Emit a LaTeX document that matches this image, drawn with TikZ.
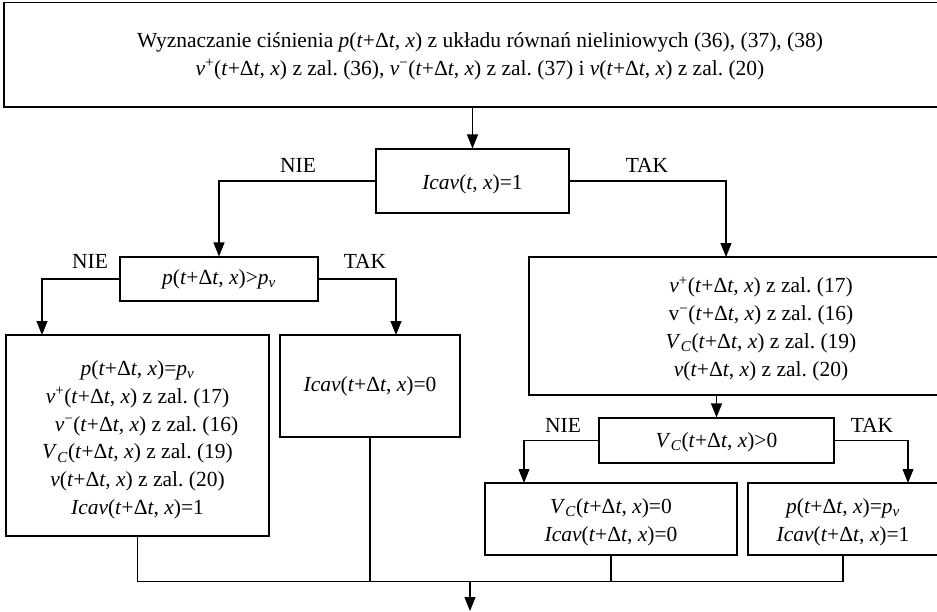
\documentclass[tikz,border=0pt]{standalone}
\usepackage{fontspec}
\setmainfont{Liberation Serif}
\usetikzlibrary{arrows.meta}

% argument list (t+Δt, x) and recurring symbols
\newcommand\tdx{(\textit{t}+Δ\textit{t}, \textit{x})}
\newcommand\Icav{\textit{Icav}}
\newcommand\pv{\textit{p}\textsubscript{\textit{v}}}
\newcommand\VC{\textit{V}\textsubscript{\textit{C}}}
\newcommand\vplus{\textit{v}\textsuperscript{+}}
\newcommand\vminus{\textit{v}\textsuperscript{−}}
\newcommand\fsz{\fontsize{21.5}{27.7}\selectfont\frenchspacing}
% centred lines, set a little below the middle of their box
\newcommand\boxtext[2][3pt]{\raisebox{-#1}[\height][\depth]{\begin{tabular}{@{}c@{}}#2\end{tabular}}}

\begin{document}
\frenchspacing
\begin{tikzpicture}[x=1pt,y=-1pt,
  box/.style={draw, line width=1.1pt, inner sep=0pt, font=\fsz},
  lbl/.style={inner sep=0pt, font=\fsz},
  arr/.style={line width=1.1pt, -{Triangle[length=14pt,width=11pt]}},
  link/.style={line width=1.1pt}]
\useasboundingbox (0,0) rectangle (937,611);

% process and decision boxes
\node[box, minimum width=952pt, minimum height=104.5pt] (top) at (480,54.75)
  {\boxtext[1pt]{Wyznaczanie ciśnienia \textit{p}\tdx{} z układu równań nieliniowych (36), (37), (38)\\
   \vplus\tdx{} z zal. (36), \vminus\tdx{} z zal. (37) i \textit{v}\tdx{} z zal. (20)}};
\node[box, minimum width=193pt, minimum height=64pt] (d1) at (472.5,181)
  {\boxtext{\Icav(\textit{t}, \textit{x})=1}};
\node[box, minimum width=198pt, minimum height=44pt] (d2) at (219,279)
  {\boxtext[0pt]{\textit{p}\tdx>\pv}};
\node[box, minimum width=263pt, minimum height=201pt] (b1) at (137.5,435.5)
  {\boxtext[4pt]{\textit{p}\tdx=\pv\\
   \vplus\tdx{} z zal. (17)\\
   \hspace*{18pt}\vminus\tdx{} z zal. (16)\\
   \VC\tdx{} z zal. (19)\\
   \textit{v}\tdx{} z zal. (20)\\
   \Icav\tdx=1}};
\node[box, minimum width=180pt, minimum height=102pt] (b2) at (370,386)
  {\boxtext[0pt]{\Icav\tdx=0}};
\node[box, minimum width=464pt, minimum height=138pt] (b3) at (761,326)
  {\boxtext{\vplus\tdx{} z zal. (17)\\
   v\textsuperscript{−}\tdx{} z zal. (16)\\
   \VC\tdx{} z zal. (19)\\
   \textit{v}\tdx{} z zal. (20)}};
\node[box, minimum width=235pt, minimum height=45pt] (d3) at (716.5,440.5)
  {\boxtext[1pt]{\VC\tdx>0}};
\node[box, minimum width=252pt, minimum height=72pt] (b4) at (611,519)
  {\boxtext{\VC\tdx=0\\ \Icav\tdx=0}};
\node[box, minimum width=190pt, minimum height=72pt] (b5) at (843,519)
  {\boxtext{\textit{p}\tdx=\pv\\ \Icav\tdx=1}};

% entry points of the branch arrows
\coordinate (b1in) at (42,335);
\coordinate (b2in) at (396,335);
\coordinate (b3in) at (726,257);
\coordinate (b4in) at (524,483);
\coordinate (b5in) at (908,483);
\coordinate (m) at (470,581.5);
\coordinate (out) at (470,611);

% branches
\draw[arr] (d1.north |- top.south) -- (d1.north);
\draw[arr] (d1.west) -| (d2.north);
\draw[arr] (d1.east) -| (b3in);
\draw[arr] (d2.west) -| (b1in);
\draw[arr] (d2.east) -| (b2in);
\draw[arr] (b3.south -| d3.north) -- (d3.north);
\draw[arr] (d3.west) -| (b4in);
\draw[arr] (d3.east) -| (b5in);

% branch labels
\node[lbl] at (298,165) {NIE};
\node[lbl] at (647,165) {TAK};
\node[lbl] at (90,261) {NIE};
\node[lbl] at (365,261) {TAK};
\node[lbl] at (563,425) {NIE};
\node[lbl] at (872,425) {TAK};

% merging line and exit
\draw[link] (b1.south) |- (m) -| (b5.south);
\draw[link] (b2.south) -- (b2.south |- m);
\draw[link] (b4.south) -- (b4.south |- m);
\draw[arr] (m) -- (out);
\end{tikzpicture}
\end{document}
